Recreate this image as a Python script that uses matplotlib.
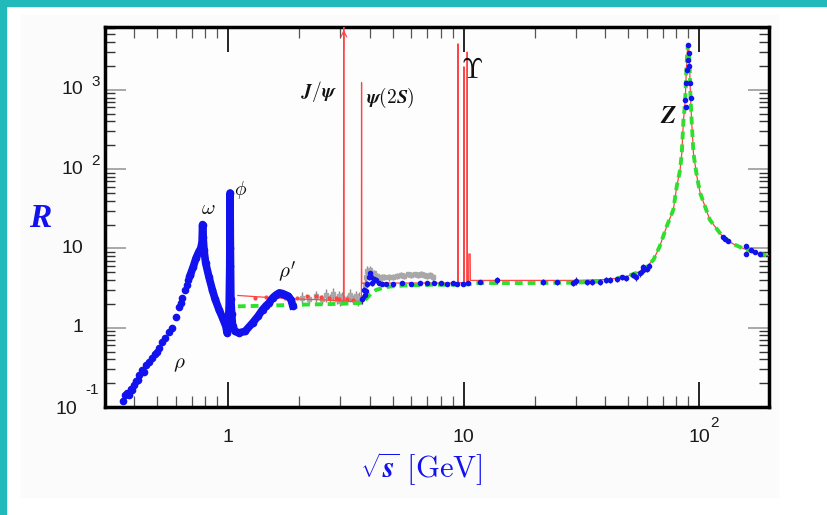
import matplotlib.pyplot as plt
from matplotlib.patches import Rectangle
from matplotlib.ticker import LogLocator, NullFormatter, FixedLocator

plt.rcParams['font.family'] = ['Liberation Sans', 'DejaVu Sans']
plt.rcParams['mathtext.fontset'] = 'cm'

# ---- values (sqrt(s) in GeV, R) ----
# rho rising edge, loose dots
rho_s = [0.357, 0.365, 0.372, 0.380, 0.385, 0.392, 0.400, 0.405, 0.415, 0.420, 0.432, 0.440,
         0.450, 0.462, 0.475, 0.490, 0.500, 0.510, 0.525, 0.540, 0.560, 0.576, 0.600, 0.620,
         0.629, 0.640, 0.655, 0.668, 0.678, 0.690]
rho_R = [0.118, 0.14, 0.15, 0.14, 0.17, 0.165, 0.19, 0.21, 0.22, 0.25, 0.29, 0.28,
         0.34, 0.37, 0.42, 0.46, 0.50, 0.55, 0.66, 0.74, 0.88, 1.0, 1.35, 1.8,
         2.05, 2.4, 3.0, 3.5, 4.0, 4.6]

# omega / phi / rho' region, dense band
band_s = [0.690, 0.710, 0.730, 0.750, 0.765, 0.775, 0.779, 0.783, 0.790, 0.803, 0.830, 0.857,
          0.880, 0.915, 0.950, 0.978, 0.990, 1.000, 1.010, 1.016, 1.019, 1.022, 1.027, 1.035,
          1.045, 1.070, 1.110, 1.180, 1.270, 1.340, 1.400, 1.450, 1.490, 1.550, 1.600, 1.650,
          1.700, 1.750, 1.800, 1.850, 1.880]
band_R = [4.6, 5.8, 7.5, 9.0, 10.0, 12.0, 20.0, 14.0, 9.5, 6.5, 4.3, 3.0,
          2.3, 1.69, 1.3, 1.04, 0.86, 1.1, 1.8, 6.0, 50.0, 10.0, 2.3, 1.5,
          1.04, 0.9, 0.86, 0.9, 1.15, 1.4, 1.69, 1.9, 2.05, 2.4, 2.6, 2.75,
          2.7, 2.6, 2.5, 2.25, 1.9]

# blue points from charm threshold up to the Z rise
blue_s = [3.72, 3.77, 3.80, 3.85, 3.90, 3.95, 4.00, 4.05, 4.10, 4.16, 4.25, 4.35, 4.5, 4.7,
          5.0, 5.5, 6.0, 6.5, 7.0, 7.5, 8.0, 8.5, 9.0, 9.4, 9.9, 10.4, 11.7, 13.8, 21.8,
          24.8, 29.1, 30.1, 33.3, 35.0, 37.9, 40.4, 42.0, 44.6, 47.0, 49.1, 52.5, 54.0,
          56.0, 57.5, 58.0, 59.9, 61.0]
blue_R = [2.3, 3.0, 2.6, 2.9, 3.6, 4.3, 4.9, 4.4, 3.7, 4.1, 4.0, 3.7, 3.6, 3.6,
          3.6, 3.7, 3.6, 3.65, 3.7, 3.65, 3.7, 3.6, 3.7, 3.6, 3.6, 3.7, 3.72, 4.0, 3.8,
          3.72, 3.7, 3.9, 3.75, 3.8, 3.8, 4.0, 4.0, 4.1, 4.3, 4.2, 4.66, 4.3,
          4.9, 5.4, 5.9, 5.5, 6.0]
blue_err = [0.3, 0.3, 0.3, 0.3, 0.3, 0.3, 0.3, 0.3, 0.3, 0.3, 0.2, 0.2, 0.2, 0.2,
            0.2, 0.2, 0.2, 0.2, 0.2, 0.2, 0.2, 0.2, 0.2, 0.2, 0.2, 0.2, 0.2, 0.4, 0.3,
            0.3, 0.3, 0.4, 0.3, 0.3, 0.3, 0.3, 0.3, 0.3, 0.3, 0.3, 0.4, 0.4,
            0.5, 0.6, 0.5, 0.5, 0.5]

# blue points on the Z peak and beyond
bz_s = [87.2, 87.8, 88.3, 88.8, 89.4, 89.6, 90.2, 90.8, 91.6, 92.0,
        126, 129, 132, 158, 158, 166, 172, 181]
bz_R = [748, 616, 1210, 1800, 2390, 3700, 2900, 2000, 1210, 786,
        14.0, 13.0, 12.3, 10.6, 8.5, 9.6, 9.0, 8.5]

# grey points
grey_s = [2.05, 2.2, 2.35, 2.5, 2.6, 2.7, 2.8, 2.9, 2.95, 3.0, 3.05, 3.2, 3.3, 3.4, 3.5,
          3.55, 3.6, 3.65, 3.8, 3.85, 3.9, 3.95, 4.0, 4.05, 4.1, 4.15, 4.2, 4.3, 4.4, 4.5,
          4.6, 4.8, 5.0, 5.2, 5.4, 5.6, 5.8, 6.0, 6.2, 6.4, 6.6, 6.8, 7.0, 7.2, 7.4]
grey_R = [2.4, 2.3, 2.5, 2.3, 2.6, 2.4, 2.7, 2.3, 2.5, 2.2, 2.4, 2.3, 2.6, 2.3, 2.5,
          2.2, 2.4, 2.3, 3.5, 4.3, 5.2, 5.0, 5.3, 4.6, 4.5, 4.9, 4.3, 4.5, 4.2, 4.3,
          4.4, 4.3, 4.4, 4.5, 4.6, 4.5, 4.7, 4.6, 4.7, 4.6, 4.8, 4.6, 4.5, 4.6, 4.3]
grey_err = [0.4, 0.3, 0.4, 0.3, 0.5, 0.3, 0.5, 0.3, 0.4, 0.3, 0.4, 0.3, 0.5, 0.3, 0.4,
            0.3, 0.4, 0.3, 0.6, 0.6, 0.8, 0.6, 0.7, 0.5, 0.5, 0.5, 0.4, 0.4, 0.4, 0.4,
            0.4, 0.4, 0.4, 0.4, 0.4, 0.4, 0.4, 0.4, 0.4, 0.4, 0.4, 0.4, 0.4, 0.4, 0.4]

# small red points
redpt_s = [1.30, 1.45, 1.60, 1.75, 1.97, 2.17, 2.37, 2.49, 2.69, 2.88, 2.97, 3.2, 3.4]
redpt_R = [2.4, 2.45, 2.5, 2.4, 2.37, 2.53, 2.5, 2.45, 2.4, 2.35, 2.3, 2.3, 2.25]

# red curve below the Z, with the narrow resonances
red_s = [1.10, 1.5, 2.0, 2.5, 3.0, 3.090, 3.097, 3.104, 3.60, 3.680, 3.686, 3.692, 3.75,
         4.5, 6.0, 8.0, 9.40, 9.455, 9.460, 9.465, 10.018, 10.023, 10.028, 10.350, 10.355,
         10.360, 10.50, 10.52, 10.66, 10.68, 12.0, 20.0, 30.0, 40.0]
red_R = [2.55, 2.40, 2.30, 2.25, 2.18, 2.16, 20000, 2.16, 2.15, 2.15, 1230, 3.6, 3.66,
         3.66, 3.66, 3.66, 3.66, 3.66, 3800, 3.7, 3.7, 1950, 3.7, 3.7, 3000,
         3.7, 3.7, 8.5, 8.5, 3.95, 3.95, 3.95, 3.95, 4.05]

# green dashed curve below the Z
green_s = [1.10, 1.5, 2.0, 3.0, 3.6, 3.7, 3.85, 4.0, 4.25, 4.5, 4.84, 5.5, 7.2, 10.0,
           11.7, 15.0, 20.0, 30.0, 40.0]
green_R = [1.86, 1.90, 1.95, 2.0, 2.05, 2.1, 2.3, 2.6, 3.0, 3.15, 3.3, 3.4, 3.48, 3.48,
           3.66, 3.66, 3.66, 3.7, 3.85]

# Z line shape (red and green lie on top of each other here)
z_s = [44.7, 50, 55, 58, 61, 64, 68, 72.8, 77.7, 80.3, 83, 84.4, 85.8, 86.8, 87.5, 88.2,
       88.8, 89.5, 90.0, 90.6, 91.2, 91.8, 92.6, 94.6, 97.8, 101, 111, 126, 140, 159, 180, 200]
z_R = [4.2, 4.5, 5.0, 5.4, 6.2, 7.2, 10.6, 18.9, 30.7, 60, 98, 158, 417, 600, 900, 1700,
       2600, 3600, 3700, 2800, 1800, 900, 500, 158, 81, 50, 23, 14, 11.3, 9.6, 8.6, 8.0]

jpsi_mass = 3.097

# resonance labels: text, sqrt(s), R, size
labels = [(r'$\rho$', 0.619, 0.34, 15), (r'$\omega$', 0.822, 32, 15),
          (r'$\phi$', 1.13, 55, 14), (r"$\rho'$", 1.78, 5.0, 15),
          (r'$\boldsymbol{J/\psi}$', 2.44, 945, 14), (r'$\boldsymbol{\psi(2S)}$', 4.89, 780, 14),
          (r'$\boldsymbol{\Upsilon}$', 10.9, 1700, 20), (r'$\boldsymbol{Z}$', 73.8, 470, 18)]

xtick_vals = [1, 10, 100]
xtick_base = ['1', '10', '10']
xtick_sup = ['', '', '2']
ytick_vals = [0.1, 1, 10, 100, 1000]
ytick_base = ['10', '1', '10', '10', '10']
ytick_sup = ['-1', '', '', '2', '3']

BLUE = '#1212ee'
RED = '#ff4444'
GREEN = '#2ee02e'

fig = plt.figure(figsize=(8.28, 5.15), dpi=100)
fig.patches.append(Rectangle((21 / 828, 1 - 497 / 515), 757 / 828, 482 / 515,
                             transform=fig.transFigure, color='#fbfbfb', zorder=-3))
fig.patches.append(Rectangle((0, 1 - 6 / 515), 1, 6 / 515, transform=fig.transFigure,
                             color='#22b9ba', zorder=-2))
fig.patches.append(Rectangle((0, 0), 6 / 828, 1, transform=fig.transFigure,
                             color='#22b9ba', zorder=-2))

ax = fig.add_axes([105 / 828, 1 - 407 / 515, 664 / 828, 380 / 515])
ax.set_facecolor('#fdfdfd')
ax.set_xscale('log')
ax.set_yscale('log')
ax.set_xlim(0.3, 198)
ax.set_ylim(0.1, 6200)

# data
ax.errorbar(grey_s, grey_R, yerr=grey_err, fmt='s', ms=3.5, color='#a8a8a8',
            ecolor='#8c8c8c', elinewidth=1, zorder=2)
ax.plot(red_s + z_s, red_R + z_R, color=RED, lw=0.9, zorder=3)
ax.plot(redpt_s, redpt_R, 'o', ms=2, color=RED, zorder=3)
ax.annotate('', xy=(jpsi_mass, 6200), xytext=(jpsi_mass, 3000),
            arrowprops=dict(arrowstyle='->', color=RED, lw=0.9), zorder=3)
ax.plot(green_s + z_s, green_R + z_R, color=GREEN, lw=2.8, dashes=(2.0, 1.3), zorder=4)
ax.plot(rho_s, rho_R, 'o', ms=4.5, color=BLUE, zorder=5)
ax.plot(band_s, band_R, '-o', lw=5.5, ms=4.5, color=BLUE, zorder=5)
ax.errorbar(blue_s, blue_R, yerr=blue_err, fmt='o', ms=3, color=BLUE,
            ecolor='#303070', elinewidth=0.9, zorder=5)
ax.plot(bz_s, bz_R, 'o', ms=3, color=BLUE, zorder=6)

for txt, x, y, size in labels:
    ax.text(x, y, txt, ha='center', va='center', fontsize=size, color='#111111', zorder=7)

# axes frame and ticks
for sp in ax.spines.values():
    sp.set_linewidth(2.5)
    sp.set_color('black')
ax.xaxis.set_major_locator(FixedLocator(xtick_vals))
ax.yaxis.set_major_locator(FixedLocator(ytick_vals))
ax.xaxis.set_minor_locator(LogLocator(base=10, subs=range(2, 10), numticks=20))
ax.yaxis.set_minor_locator(LogLocator(base=10, subs=range(2, 10), numticks=20))
ax.xaxis.set_minor_formatter(NullFormatter())
ax.yaxis.set_minor_formatter(NullFormatter())
ax.tick_params(which='both', direction='in', top=True, right=True,
               labelbottom=False, labelleft=False)
ax.tick_params(axis='x', which='major', length=18, width=1.2, color='black')
ax.tick_params(axis='x', which='minor', length=8, width=0.9, color='#555555')
ax.tick_params(axis='y', which='major', length=15, width=1.2, color='#9a9a9a')
ax.tick_params(axis='y', which='minor', length=7, width=1.0, color='#333333')

# tick labels drawn by hand so the exponents hang like in the original
xt = ax.get_xaxis_transform()
for v, b, s in zip(xtick_vals, xtick_base, xtick_sup):
    ax.annotate(b, xy=(v, 0), xycoords=xt, xytext=(0, -30), textcoords='offset pixels',
                ha='center', va='center', fontsize=14, color='#1a1a1a')
    if s:
        ax.annotate(s, xy=(v, 0), xycoords=xt, xytext=(11, -16), textcoords='offset pixels',
                    ha='left', va='center', fontsize=11, color='#1a1a1a')

yt = ax.get_yaxis_transform()
for v, b, s in zip(ytick_vals, ytick_base, ytick_sup):
    if s == '-1':
        boff, soff = (-28, -3), (-20, 17)
    else:
        boff, soff = (-22, 0), (-14, 8)
    ax.annotate(b, xy=(0, v), xycoords=yt, xytext=boff, textcoords='offset pixels',
                ha='right', va='center', fontsize=14, color='#1a1a1a')
    if s:
        ax.annotate(s, xy=(0, v), xycoords=yt, xytext=soff, textcoords='offset pixels',
                    ha='left', va='center', fontsize=11, color='#1a1a1a')

fig.text(40 / 828, 1 - 218 / 515, 'R', ha='center', va='center', fontsize=24,
         color=BLUE, family='Liberation Serif', weight='bold', style='italic')
fig.text(421 / 828, 1 - 469 / 515, r'$\sqrt{\boldsymbol{s}}\ \mathrm{[GeV]}$',
         ha='center', va='center', fontsize=22, color=BLUE)

fig.savefig('out.png', dpi=100)
